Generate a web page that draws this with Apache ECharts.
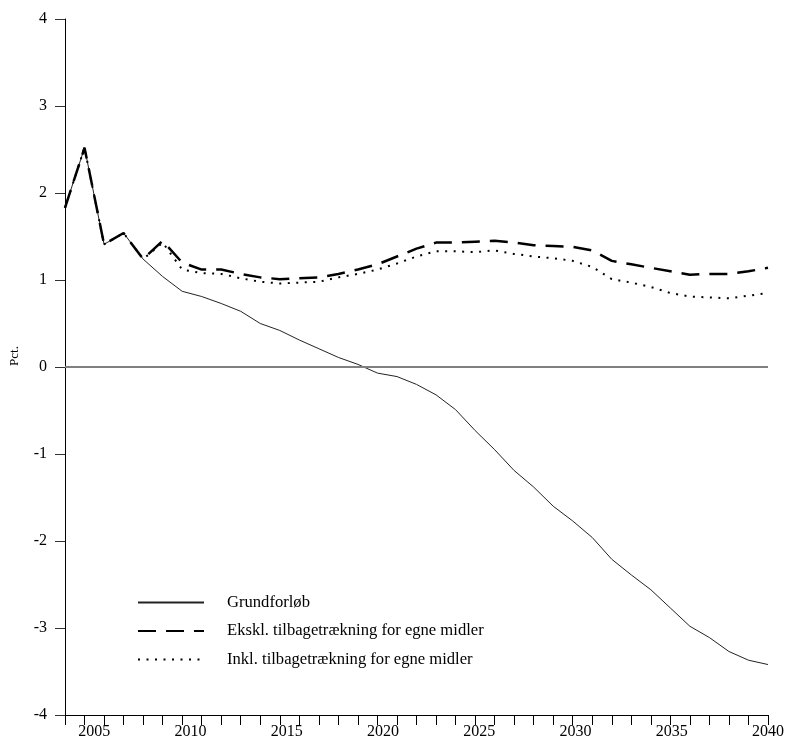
<!DOCTYPE html>
<html>
<head>
<meta charset="utf-8">
<script src="https://cdn.jsdelivr.net/npm/echarts@6/dist/echarts.min.js"></script>
<style>html,body{margin:0;padding:0;background:#fff}#c{width:791px;height:740px}</style>
</head>
<body>
<div id="c"></div>
<script>
const years = [2004,2005,2006,2007,2008,2009,2010,2011,2012,2013,2014,2015,2016,2017,2018,2019,2020,2021,2022,2023,2024,2025,2026,2027,2028,2029,2030,2031,2032,2033,2034,2035,2036,2037,2038,2039,2040];
const grundforloeb = [1.83,2.52,1.41,1.54,1.24,1.04,0.87,0.81,0.73,0.64,0.50,0.42,0.31,0.21,0.11,0.03,-0.07,-0.11,-0.20,-0.32,-0.49,-0.73,-0.95,-1.19,-1.38,-1.60,-1.77,-1.96,-2.21,-2.39,-2.56,-2.77,-2.98,-3.11,-3.27,-3.37,-3.42];
const ekskl = [1.83,2.52,1.41,1.54,1.24,1.45,1.20,1.12,1.12,1.07,1.03,1.01,1.02,1.03,1.07,1.12,1.18,1.27,1.36,1.43,1.43,1.44,1.45,1.43,1.40,1.39,1.38,1.34,1.22,1.18,1.14,1.10,1.06,1.07,1.07,1.10,1.14];
const inkl = [1.83,2.52,1.41,1.54,1.24,1.43,1.12,1.08,1.07,1.02,0.98,0.96,0.97,0.98,1.03,1.07,1.12,1.19,1.27,1.33,1.33,1.32,1.34,1.30,1.27,1.25,1.22,1.15,1.01,0.97,0.92,0.85,0.81,0.80,0.79,0.82,0.85];
const seriesNames = ['Grundforløb','Ekskl. tilbagetrækning for egne midler','Inkl. tilbagetrækning for egne midler'];
const xTickLabels = [2005,2010,2015,2020,2025,2030,2035,2040];
const yTicks = [-4,-3,-2,-1,0,1,2,3,4];
const yName = 'Pct.';

const font = 'Liberation Serif';
const pairs = arr => years.map((y,i)=>[y,arr[i]]);

const chart = echarts.init(document.getElementById('c'), null, {renderer:'canvas'});
chart.setOption({
  animation:false,
  backgroundColor:'#fff',
  grid:{left:62,right:23,top:19,bottom:25,containLabel:false},
  legend:{
    orient:'vertical', left:137, top:594, padding:0,
    itemWidth:66, itemHeight:16, itemGap:11.5,
    itemStyle:{color:'rgba(0,0,0,0)',borderWidth:0,opacity:0},
    textStyle:{fontFamily:font,fontSize:16.6,color:'#000',padding:[0,0,0,18]},
    data:seriesNames
  },
  xAxis:[{
    type:'value', min:years[0], max:years[years.length-1], interval:1,
    axisLine:{show:true,onZero:false,lineStyle:{color:'#000',width:1}},
    axisTick:{show:true,length:10,lineStyle:{color:'#000'}},
    axisLabel:{show:false},
    splitLine:{show:false}
  },{
    type:'value', position:'bottom', min:2003.48, max:years[years.length-1],
    axisLine:{show:false}, axisTick:{show:false}, splitLine:{show:false},
    axisLabel:{fontFamily:font,fontSize:16,color:'#000',margin:9,
      customValues:xTickLabels, showMinLabel:true, showMaxLabel:true,
      formatter:v=>String(v)}
  }],
  yAxis:{
    type:'value', min:yTicks[0], max:yTicks[yTicks.length-1], interval:1,
    name:yName, nameLocation:'middle', nameGap:44, nameRotate:90,
    nameTextStyle:{fontFamily:font,fontSize:13,color:'#000',padding:[0,0,0,22]},
    axisLine:{show:true,onZero:false,lineStyle:{color:'#000',width:1}},
    axisTick:{show:true,length:10,lineStyle:{color:'#333'}},
    axisLabel:{fontFamily:font,fontSize:16,color:'#000',margin:18},
    splitLine:{show:false}
  },
  series:[
    {name:seriesNames[0],type:'line',data:pairs(grundforloeb),symbol:'none',
     lineStyle:{color:'#222',width:1},itemStyle:{color:'#222'},z:3,
     markLine:{silent:true,symbol:'none',label:{show:false},
       lineStyle:{color:'#808080',width:2,type:'solid'},data:[{yAxis:0}]}},
    {name:seriesNames[1],type:'line',data:pairs(ekskl),symbol:'none',
     lineStyle:{color:'#000',width:2.5,type:[18,10]},itemStyle:{color:'#000'},z:4},
    {name:seriesNames[2],type:'line',data:pairs(inkl),symbol:'none',
     lineStyle:{color:'#000',width:2,type:[2,6.5]},itemStyle:{color:'#000'},z:4}
  ]
});
</script>
</body>
</html>
